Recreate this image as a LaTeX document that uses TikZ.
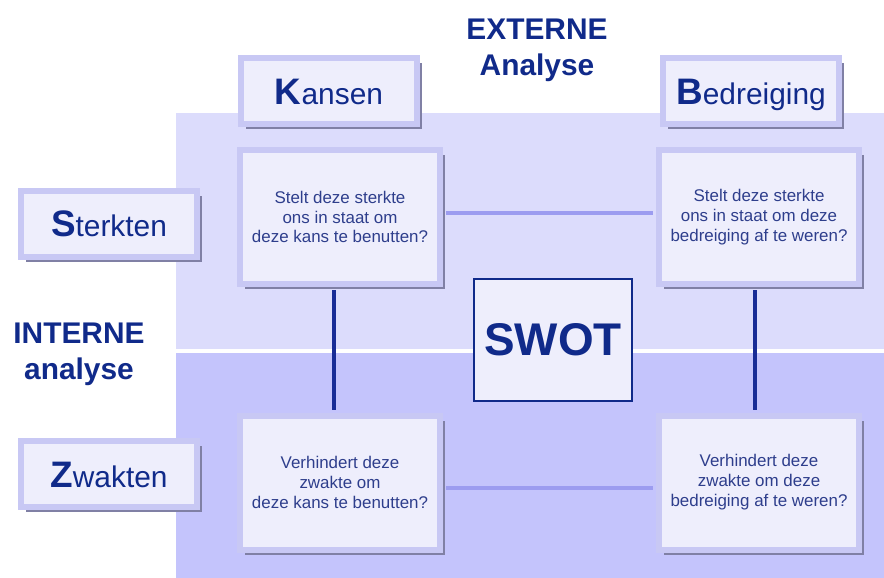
\documentclass[tikz,border=0pt]{standalone}
\usepackage{fontspec}
\setmainfont{Liberation Sans}
\usetikzlibrary{shadows,positioning}

\definecolor{bgtop}{RGB}{220,220,252}
\definecolor{bgbot}{RGB}{196,196,252}
\definecolor{boxfill}{RGB}{238,238,252}
\definecolor{boxedge}{RGB}{200,200,244}
\definecolor{boxshade}{RGB}{128,128,165}
\definecolor{headblue}{RGB}{16,42,138}
\definecolor{askblue}{RGB}{46,62,140}
\definecolor{linkpale}{RGB}{156,156,240}
\definecolor{linkdark}{RGB}{24,44,150}

\newcommand{\bigfirst}[2]{{\fontsize{37}{38}\selectfont\bfseries #1}#2}

\tikzset{
  shade box/.style={drop shadow={shadow xshift=5bp,shadow yshift=-5bp,fill=boxshade,opacity=1}},
  labelbox/.style={shade box,draw=boxedge,line width=6bp,fill=boxfill,text=headblue,
    font=\fontsize{30}{36}\selectfont,inner sep=0pt,text height=26bp,text depth=0pt,
    minimum width=176bp,minimum height=66bp},
  askbox/.style={shade box,draw=boxedge,line width=6bp,fill=boxfill,text=askblue,
    font=\fontsize{17}{20}\selectfont,align=center,inner sep=0pt,
    minimum width=200bp,minimum height=134bp},
  palelink/.style={draw=linkpale,line width=4bp,shorten <=3bp,shorten >=3bp},
  darklink/.style={draw=linkdark,line width=4bp,shorten <=3bp,shorten >=3bp}
}

\begin{document}
\begin{tikzpicture}[x=1bp,y=-1bp]
  \useasboundingbox (0,0) rectangle (884,578);
  % achtergrond
  \fill[bgtop] (176,113) rectangle (884,349);
  \fill[bgbot] (176,353) rectangle (884,578);

  % koppen
  \begin{scope}[every node/.style={align=center,text=headblue,font=\fontsize{30}{36}\selectfont\bfseries}]
    \node (ext) at (537,50) {EXTERNE\\Analyse};
    \node (int) at (79,354) {INTERNE\\analyse};
  \end{scope}

  % labels
  \begin{scope}[every node/.style={labelbox}]
    \node (kans) at (329,91.5) {\bigfirst{K}{ansen}};
    \node (bedr) at (751,91.5) {\bigfirst{B}{edreiging}};
    \node (sterk) at (109,224) {\bigfirst{S}{terkten}};
    \node (zwak) at (109,474) {\bigfirst{Z}{wakten}};
  \end{scope}

  % vragen
  \begin{scope}[every node/.style={askbox}]
    \node (sk) at (340,217) {Stelt deze sterkte\\ons in staat om\\deze kans te benutten?};
    \node (sb) at (759,217) {Stelt deze sterkte\\ons in staat om deze\\bedreiging af te weren?};
    \node (zk) at (340,482.5) {Verhindert deze\\zwakte om\\deze kans te benutten?};
    \node (zb) at (759,482.5) {Verhindert deze\\zwakte om deze\\bedreiging af te weren?};
  \end{scope}

  % verbindingen
  \path ([yshift=4bp]sk.east) edge[palelink] ([yshift=4bp]sb.west);
  \path ([yshift=-5bp]zk.east) edge[palelink] ([yshift=-5bp]zb.west);
  \path ([xshift=-6bp]sk.south) edge[darklink] ([xshift=-6bp]zk.north);
  \path ([xshift=-4bp]sb.south) edge[darklink] ([xshift=-4bp]zb.north);

  \node[draw=headblue,line width=2bp,fill=boxfill,text=headblue,
    font=\fontsize{46}{50}\selectfont\bfseries,
    minimum width=158bp,minimum height=122bp] (swot) at (553,340) {SWOT};
\end{tikzpicture}
\end{document}
